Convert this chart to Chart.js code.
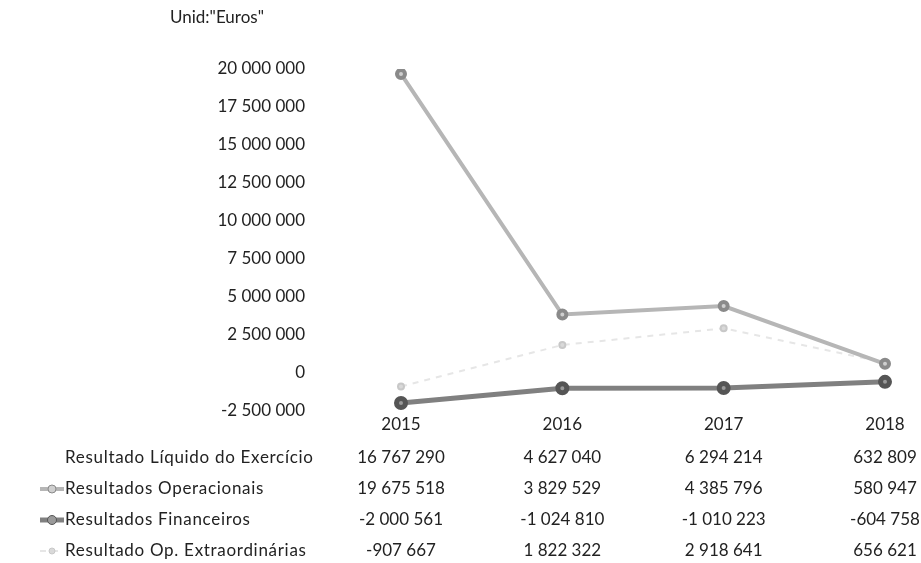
<!DOCTYPE html>
<html>
<head>
<meta charset="utf-8">
<script src="https://cdn.jsdelivr.net/npm/chart.js@4"></script>
<style>
  html, body { margin: 0; padding: 0; background: #fff; }
  #wrap { width: 921px; height: 563px; }
</style>
</head>
<body>
<div id="wrap"><canvas id="chart" width="921" height="563"></canvas></div>
<script>
/* =======================
   DATA
======================= */
const years = ["2015", "2016", "2017", "2018"];
const seriesNames = [
  "Resultado Líquido do Exercício",
  "Resultados Operacionais",
  "Resultados Financeiros",
  "Resultado Op. Extraordinárias"
];
const liquido = [16767290, 4627040, 6294214, 632809];
const operacionais = [19675518, 3829529, 4385796, 580947];
const financeiros = [-2000561, -1024810, -1010223, -604758];
const extraordinarias = [-907667, 1822322, 2918641, 656621];
const unitLabel = 'Unid:"Euros"';

const FONT = "Lato, 'Open Sans', sans-serif";
const FSIZE = 17;
const TEXT = "#222";

// 20 000 000 style
function fmt(v) {
  const s = Math.abs(Math.round(v)).toString().replace(/\B(?=(\d{3})+(?!\d))/g, " ");
  return (v < 0 ? "-" : "") + s;
}

/* =======================
   DATA TABLE PLUGIN
======================= */
const tablePlugin = {
  id: "dataTable",
  afterDraw(chart) {
    const ctx = chart.ctx;
    const xs = chart.scales.x;
    ctx.save();
    ctx.font = FSIZE + "px " + FONT;
    ctx.fillStyle = TEXT;
    ctx.textBaseline = "middle";

    // unit label
    ctx.textAlign = "left";
    ctx.fillText(unitLabel, 170, 18);

    chart.data.datasets.forEach((ds, i) => {
      const y = 458 + i * 31;
      // legend key
      if (ds.keyVisible) {
        ctx.save();
        ctx.strokeStyle = ds.borderColor;
        ctx.lineWidth = ds.borderWidth;
        if (ds.borderDash) ctx.setLineDash(ds.borderDash);
        ctx.beginPath();
        ctx.moveTo(40, y);
        ctx.lineTo(64, y);
        ctx.stroke();
        ctx.setLineDash([]);
        ctx.fillStyle = ds.pointBackgroundColor;
        ctx.strokeStyle = ds.pointBorderColor;
        ctx.lineWidth = 1;
        ctx.beginPath();
        ctx.arc(52, y, ds.pointRadius, 0, Math.PI * 2);
        ctx.fill();
        ctx.stroke();
        ctx.restore();
      }
      ctx.textAlign = "left";
      ctx.letterSpacing = "0.7px";
      ctx.fillText(ds.label, 65, y);
      ctx.letterSpacing = "0px";
      ctx.textAlign = "center";
      ds.data.forEach((v, j) => {
        ctx.fillText(fmt(v), xs.getPixelForValue(j), y);
      });
    });
    ctx.restore();
  }
};

/* =======================
   CHART
======================= */
new Chart(document.getElementById("chart"), {
  type: "line",
  data: {
    labels: years,
    datasets: [
      {
        label: seriesNames[0],
        data: liquido,
        borderColor: "rgba(0,0,0,0)",
        borderWidth: 0,
        pointRadius: 0,
        showLine: false,
        keyVisible: false
      },
      {
        label: seriesNames[1],
        data: operacionais,
        borderColor: "#b6b6b6",
        borderWidth: 4,
        pointRadius: 4,
        pointBackgroundColor: "#cfcfcf",
        pointBorderColor: "#8a8a8a",
        keyVisible: true
      },
      {
        label: seriesNames[2],
        data: financeiros,
        borderColor: "#808080",
        borderWidth: 5,
        pointRadius: 4.5,
        pointBackgroundColor: "#9a9a9a",
        pointBorderColor: "#555",
        keyVisible: true
      },
      {
        label: seriesNames[3],
        data: extraordinarias,
        borderColor: "#e6e6e6",
        borderWidth: 2,
        borderDash: [6, 6],
        pointRadius: 3,
        pointBackgroundColor: "#d9d9d9",
        pointBorderColor: "#c8c8c8",
        keyVisible: true
      }
    ]
  },
  options: {
    responsive: false,
    animation: false,
    layout: { padding: { top: 69, right: 36, bottom: 128, left: 0 } },
    plugins: {
      legend: { display: false },
      tooltip: { enabled: false }
    },
    scales: {
      x: {
        offset: false,
        grid: { display: false, tickLength: 4 },
        border: { display: false },
        ticks: { color: TEXT, font: { family: FONT, size: FSIZE }, padding: 0 }
      },
      y: {
        min: -2500000,
        max: 20000000,
        grid: { display: false, tickLength: 92 },
        border: { display: false },
        afterFit: (scale) => { scale.width = 401; },
        ticks: {
          stepSize: 2500000,
          color: TEXT,
          padding: 4,
          font: { family: FONT, size: FSIZE },
          callback: (v) => fmt(v)
        }
      }
    }
  },
  plugins: [tablePlugin]
});
</script>
</body>
</html>
